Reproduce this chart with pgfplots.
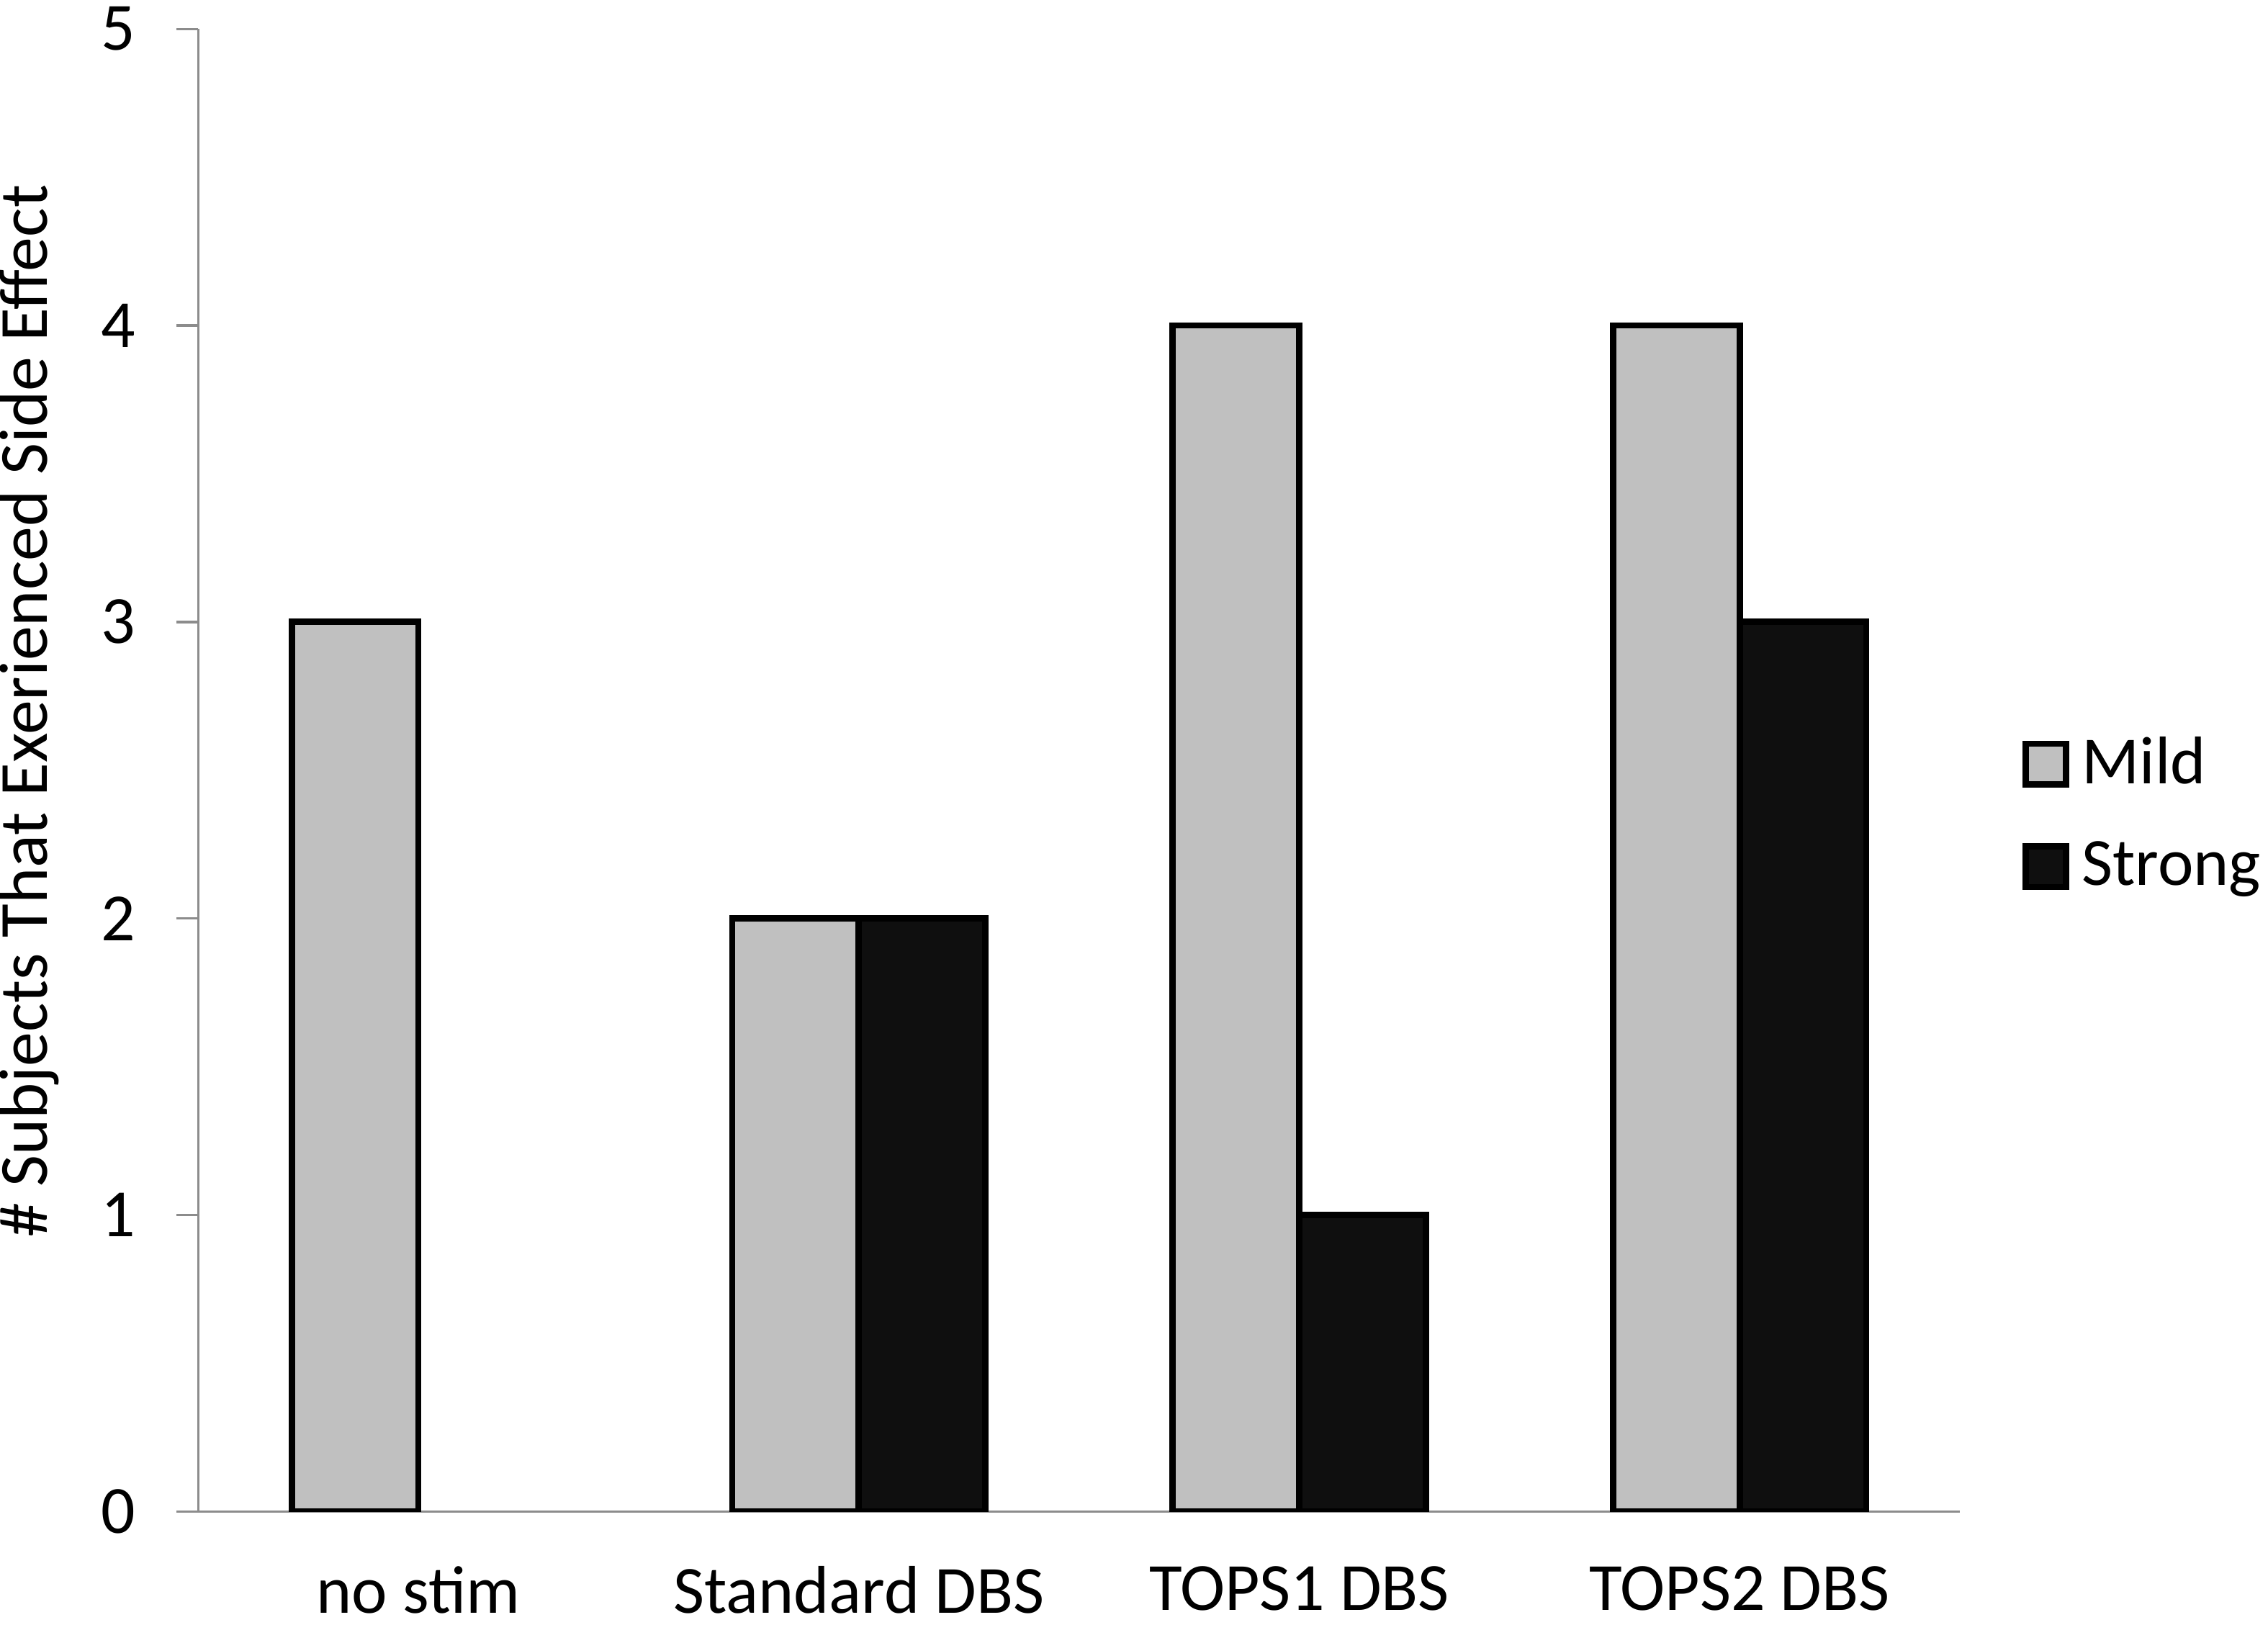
\documentclass[border=0pt]{standalone}
\usepackage{fontspec}
\setmainfont{Carlito}
\usepackage{pgfplots}
\pgfplotsset{compat=1.18}
\definecolor{mildgray}{RGB}{192,192,192}
\definecolor{strongblack}{RGB}{15,15,15}
\definecolor{axgray}{RGB}{140,140,140}
\begin{document}
\begin{tikzpicture}
\begin{axis}[
  at={(41.1pt,23.4pt)}, anchor=south west,
  scale only axis, width=365.4pt, height=307.5pt,
  xmin=-0.5, xmax=3.5, ymin=0, ymax=5,
  axis x line*=bottom, axis y line*=left,
  axis line style={axgray, line width=0.5pt},
  ytick={0,1,2,3,4,5}, xtick={0,1,2,3},
  xticklabels={no stim, Standard DBS, TOPS1 DBS, TOPS2 DBS},
  tick align=outside,
  major tick length=4.5pt,
  ytick style={axgray, line width=0.5pt},
  xtick style={draw=none},
  /pgf/number format/assume math mode=true,
  yticklabel style={font=\fontsize{14}{16}\selectfont, xshift=-5pt},
  xticklabel style={font=\fontsize{14}{16}\selectfont, yshift=-3.4pt},
  every axis y label/.style={at={(axis description cs:-0.096,0.54)}, rotate=90, anchor=center, font=\fontsize{14.3}{16}\selectfont},
  ylabel={\# Subjects That Exerienced Side Effect},
  ybar=0pt, bar width=26.25pt,
  legend image code/.code={\draw[#1] (0pt,-4.2pt) rectangle (8.4pt,4.2pt);},
  legend style={at={(1.035,0.47)}, anchor=west, draw=none, fill=none, inner sep=0pt,
    row sep=10.4pt, font=\fontsize{14}{16}\selectfont,
    nodes={inner sep=0pt},
    /tikz/every odd column/.append style={column sep=2.6pt}},
  legend cell align=left,
]
\addplot[fill=mildgray, draw=black, line width=1.3pt] coordinates {(0,3) (1,2) (2,4) (3,4)};
\addlegendentry{Mild}
\addplot[fill=strongblack, draw=black, line width=1.3pt] coordinates {(1,2) (2,1) (3,3)};
\addlegendentry{Strong}
\end{axis}
\pgfresetboundingbox
\path (0pt,0pt) rectangle (470.4pt,336.9pt);
\end{tikzpicture}
\end{document}
